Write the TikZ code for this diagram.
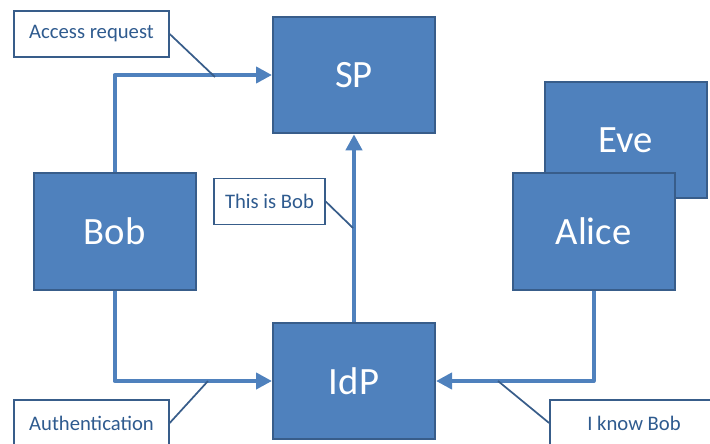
\documentclass[tikz,border=0pt]{standalone}
\usepackage{fontspec}
\setmainfont{Carlito}
\usetikzlibrary{arrows.meta,calc}
\definecolor{boxfill}{HTML}{4F81BD}
\definecolor{boxline}{HTML}{385D8A}
\definecolor{calltext}{HTML}{2F5B8F}
\tikzset{
	party/.style={
		draw=boxline, line width=1.5pt, fill=boxfill, text=white,
		minimum width=121.5pt, minimum height=87.5pt,
		font=\fontsize{29}{34}\selectfont},
	flow/.style={
		draw=boxfill, line width=3pt, line join=round,
		-{Triangle[length=12pt,width=12pt]}},
	callout/.style={
		draw=boxline, line width=1.3pt, fill=white, text=calltext,
		minimum height=34.5pt, font=\fontsize{15.5}{18}\selectfont},
	pointer/.style={
		draw=boxline, line width=1.3pt}
}
\begin{document}
\begin{tikzpicture}[x=0.75pt,y=0.75pt,yscale=-1,xscale=1]
\useasboundingbox (0,0) rectangle (710,443);
\clip (0,0) rectangle (710,443);

% parties
\node [party] (sp) at (354,75) {SP};
\node [party] (bob) at (114.5,231.5) {Bob};
\node [party] (idp) at (354,381) {IdP};
\node [party] (eve) at (625.5,140) {Eve};
\node [party] (alice) at (593.5,231.5) {Alice};

% messages
\draw [flow] (bob.north) |- (sp.west);
\draw [flow] (bob.south) |- (idp.west);
\draw [flow] (idp.north) -- (sp.south);
\draw [flow] (alice.south) |- (idp.east);

% callouts
\node [callout, minimum width=116pt] (access) at (91.5,34) {Access request};
\node [callout, minimum width=83pt] (thisbob) at (269.5,201.5) {This is Bob};
\node [callout, minimum width=116pt] (authn) at (91.5,423) {Authentication};
\node [callout, minimum width=126pt] (knowbob) at (634,423) {I know Bob};

\coordinate (access-pt) at (215,77);
\coordinate (thisbob-pt) at (353,228);
\coordinate (authn-pt) at (208,381);
\coordinate (knowbob-pt) at (498,381);

\draw [pointer] (access.east) -- (access-pt);
\draw [pointer] (thisbob.east) -- (thisbob-pt);
\draw [pointer] (authn.east) -- (authn-pt);
\draw [pointer] (knowbob.west) -- (knowbob-pt);
\end{tikzpicture}
\end{document}
